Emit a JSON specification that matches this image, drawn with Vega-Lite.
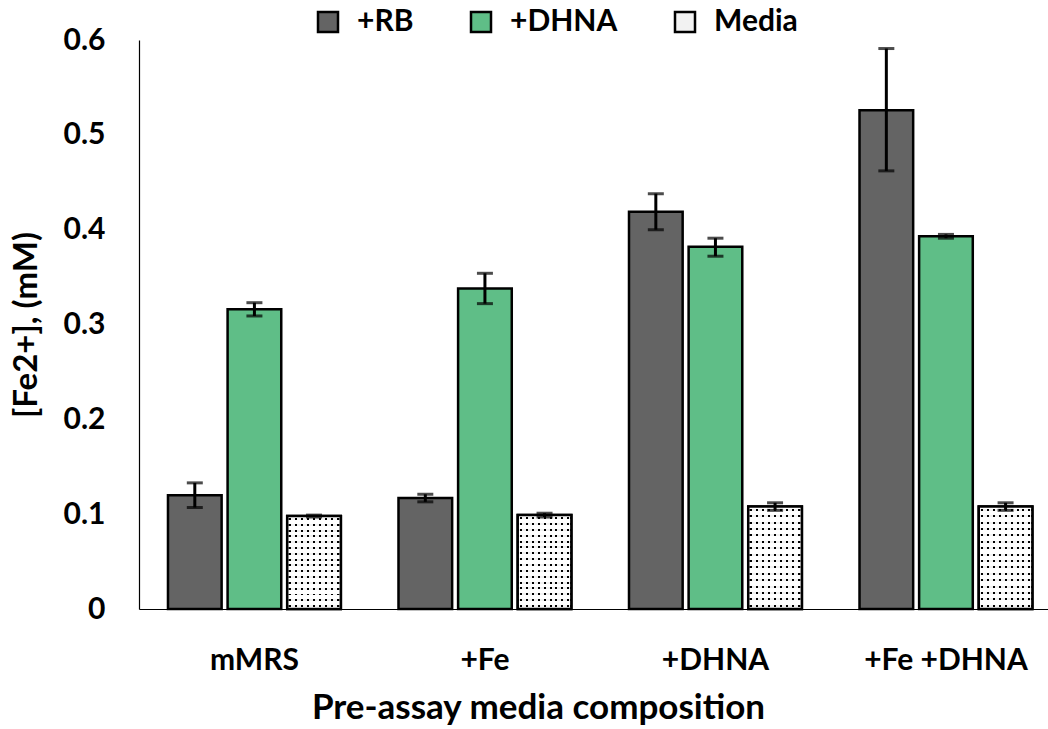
{
  "$schema": "https://vega.github.io/schema/vega-lite/v6.json",
  "autosize": "none",
  "padding": {"left": 139, "top": 40, "right": 0, "bottom": 120},
  "width": 909,
  "height": 569,
  "background": "white",
  "config": {
    "font": "Lato",
    "view": {"stroke": null},
    "axis": {"grid": false, "domainColor": "#000000", "domainWidth": 1.2, "ticks": false, "labelFont": "Lato", "labelFontWeight": "bold", "labelColor": "#000000", "titleFont": "Lato", "titleFontWeight": "bold", "titleColor": "#000000"}
  },
  "data": {
    "values": [
      {"group": "mMRS", "series": "+RB", "value": 0.120, "lo": 0.107, "hi": 0.133},
      {"group": "mMRS", "series": "+DHNA", "value": 0.316, "lo": 0.309, "hi": 0.323},
      {"group": "mMRS", "series": "Media", "value": 0.098, "lo": 0.097, "hi": 0.099},
      {"group": "+Fe", "series": "+RB", "value": 0.117, "lo": 0.113, "hi": 0.121},
      {"group": "+Fe", "series": "+DHNA", "value": 0.338, "lo": 0.322, "hi": 0.354},
      {"group": "+Fe", "series": "Media", "value": 0.099, "lo": 0.097, "hi": 0.101},
      {"group": "+DHNA", "series": "+RB", "value": 0.419, "lo": 0.400, "hi": 0.438},
      {"group": "+DHNA", "series": "+DHNA", "value": 0.382, "lo": 0.372, "hi": 0.391},
      {"group": "+DHNA", "series": "Media", "value": 0.108, "lo": 0.104, "hi": 0.112},
      {"group": "+Fe +DHNA", "series": "+RB", "value": 0.526, "lo": 0.462, "hi": 0.591},
      {"group": "+Fe +DHNA", "series": "+DHNA", "value": 0.393, "lo": 0.391, "hi": 0.395},
      {"group": "+Fe +DHNA", "series": "Media", "value": 0.108, "lo": 0.104, "hi": 0.112}
    ]
  },
  "encoding": {
    "x": {
      "field": "group", "type": "nominal",
      "sort": ["mMRS", "+Fe", "+DHNA", "+Fe +DHNA"],
      "scale": {"paddingInner": 0.25, "paddingOuter": 0.0967, "align": 0.65},
      "axis": {"title": "Pre-assay media composition", "labelAngle": 0, "labelFontSize": 30, "labelPadding": 36, "titleFontSize": 35, "titlePadding": 15, "titleX": 399}
    },
    "xOffset": {
      "field": "series", "type": "nominal",
      "sort": ["+RB", "+DHNA", "Media"],
      "scale": {"paddingInner": 0.1, "paddingOuter": 0}
    }
  },
  "layer": [
    {
      "mark": {"type": "bar", "stroke": "#000000", "strokeWidth": 2.5},
      "encoding": {
        "y": {
          "field": "value", "type": "quantitative",
          "scale": {"domain": [0, 0.6], "nice": false},
          "axis": {"title": "[Fe2+], (mM)", "values": [0, 0.1, 0.2, 0.3, 0.4, 0.5, 0.6], "format": ".1~f", "labelFontSize": 30, "labelPadding": 34, "titleFontSize": 33, "titlePadding": 20}
        },
        "fill": {
          "field": "series", "type": "nominal",
          "sort": ["+RB", "+DHNA", "Media"],
          "scale": {"domain": ["+RB", "+DHNA", "Media"], "range": ["#646464", "#5FBE87", "#F2F2F2"]},
          "legend": {
            "title": null, "orient": "none", "legendX": 174, "legendY": -33, "direction": "horizontal",
            "symbolType": "square", "symbolSize": 400, "symbolStrokeColor": "#000000", "symbolStrokeWidth": 2.5,
            "labelFontSize": 30, "labelFont": "Lato", "labelFontWeight": "bold", "labelColor": "#000000",
            "labelOffset": 14, "columnPadding": 52
          }
        }
      }
    },
    {
      "transform": [{"filter": "datum.series === 'Media'"}],
      "mark": {"type": "bar", "strokeWidth": 0, "fill": {"gradient": "linear", "x1": 0, "y1": 0, "x2": 1, "y2": 0, "stops": [
        {"offset": 0, "color": "rgba(0,0,0,0)"},
        {"offset": 0.037, "color": "rgba(0,0,0,0)"}, {"offset": 0.037, "color": "#000"}, {"offset": 0.074, "color": "#000"}, {"offset": 0.074, "color": "rgba(0,0,0,0)"},
        {"offset": 0.148, "color": "rgba(0,0,0,0)"}, {"offset": 0.148, "color": "#000"}, {"offset": 0.185, "color": "#000"}, {"offset": 0.185, "color": "rgba(0,0,0,0)"},
        {"offset": 0.259, "color": "rgba(0,0,0,0)"}, {"offset": 0.259, "color": "#000"}, {"offset": 0.296, "color": "#000"}, {"offset": 0.296, "color": "rgba(0,0,0,0)"},
        {"offset": 0.370, "color": "rgba(0,0,0,0)"}, {"offset": 0.370, "color": "#000"}, {"offset": 0.407, "color": "#000"}, {"offset": 0.407, "color": "rgba(0,0,0,0)"},
        {"offset": 0.481, "color": "rgba(0,0,0,0)"}, {"offset": 0.481, "color": "#000"}, {"offset": 0.519, "color": "#000"}, {"offset": 0.519, "color": "rgba(0,0,0,0)"},
        {"offset": 0.593, "color": "rgba(0,0,0,0)"}, {"offset": 0.593, "color": "#000"}, {"offset": 0.630, "color": "#000"}, {"offset": 0.630, "color": "rgba(0,0,0,0)"},
        {"offset": 0.704, "color": "rgba(0,0,0,0)"}, {"offset": 0.704, "color": "#000"}, {"offset": 0.741, "color": "#000"}, {"offset": 0.741, "color": "rgba(0,0,0,0)"},
        {"offset": 0.815, "color": "rgba(0,0,0,0)"}, {"offset": 0.815, "color": "#000"}, {"offset": 0.852, "color": "#000"}, {"offset": 0.852, "color": "rgba(0,0,0,0)"},
        {"offset": 0.926, "color": "rgba(0,0,0,0)"}, {"offset": 0.926, "color": "#000"}, {"offset": 0.963, "color": "#000"}, {"offset": 0.963, "color": "rgba(0,0,0,0)"},
        {"offset": 1, "color": "rgba(0,0,0,0)"}
      ]}},
      "encoding": {"y": {"field": "value", "type": "quantitative"}}
    },
    {
      "transform": [{"filter": "datum.series === 'Media'"}],
      "mark": {"type": "bar", "stroke": "#000000", "strokeWidth": 2.5, "fill": {"gradient": "linear", "x1": 0, "y1": 0, "x2": 0, "y2": 1, "stops": [
        {"offset": 0, "color": "#fff"},
        {"offset": 0.0208, "color": "#fff"}, {"offset": 0.0208, "color": "rgba(255,255,255,0)"}, {"offset": 0.0417, "color": "rgba(255,255,255,0)"}, {"offset": 0.0417, "color": "#fff"},
        {"offset": 0.0833, "color": "#fff"}, {"offset": 0.0833, "color": "rgba(255,255,255,0)"}, {"offset": 0.1042, "color": "rgba(255,255,255,0)"}, {"offset": 0.1042, "color": "#fff"},
        {"offset": 0.1458, "color": "#fff"}, {"offset": 0.1458, "color": "rgba(255,255,255,0)"}, {"offset": 0.1667, "color": "rgba(255,255,255,0)"}, {"offset": 0.1667, "color": "#fff"},
        {"offset": 0.2083, "color": "#fff"}, {"offset": 0.2083, "color": "rgba(255,255,255,0)"}, {"offset": 0.2292, "color": "rgba(255,255,255,0)"}, {"offset": 0.2292, "color": "#fff"},
        {"offset": 0.2708, "color": "#fff"}, {"offset": 0.2708, "color": "rgba(255,255,255,0)"}, {"offset": 0.2917, "color": "rgba(255,255,255,0)"}, {"offset": 0.2917, "color": "#fff"},
        {"offset": 0.3333, "color": "#fff"}, {"offset": 0.3333, "color": "rgba(255,255,255,0)"}, {"offset": 0.3542, "color": "rgba(255,255,255,0)"}, {"offset": 0.3542, "color": "#fff"},
        {"offset": 0.3958, "color": "#fff"}, {"offset": 0.3958, "color": "rgba(255,255,255,0)"}, {"offset": 0.4167, "color": "rgba(255,255,255,0)"}, {"offset": 0.4167, "color": "#fff"},
        {"offset": 0.4583, "color": "#fff"}, {"offset": 0.4583, "color": "rgba(255,255,255,0)"}, {"offset": 0.4792, "color": "rgba(255,255,255,0)"}, {"offset": 0.4792, "color": "#fff"},
        {"offset": 0.5208, "color": "#fff"}, {"offset": 0.5208, "color": "rgba(255,255,255,0)"}, {"offset": 0.5417, "color": "rgba(255,255,255,0)"}, {"offset": 0.5417, "color": "#fff"},
        {"offset": 0.5833, "color": "#fff"}, {"offset": 0.5833, "color": "rgba(255,255,255,0)"}, {"offset": 0.6042, "color": "rgba(255,255,255,0)"}, {"offset": 0.6042, "color": "#fff"},
        {"offset": 0.6458, "color": "#fff"}, {"offset": 0.6458, "color": "rgba(255,255,255,0)"}, {"offset": 0.6667, "color": "rgba(255,255,255,0)"}, {"offset": 0.6667, "color": "#fff"},
        {"offset": 0.7083, "color": "#fff"}, {"offset": 0.7083, "color": "rgba(255,255,255,0)"}, {"offset": 0.7292, "color": "rgba(255,255,255,0)"}, {"offset": 0.7292, "color": "#fff"},
        {"offset": 0.7708, "color": "#fff"}, {"offset": 0.7708, "color": "rgba(255,255,255,0)"}, {"offset": 0.7917, "color": "rgba(255,255,255,0)"}, {"offset": 0.7917, "color": "#fff"},
        {"offset": 0.8333, "color": "#fff"}, {"offset": 0.8333, "color": "rgba(255,255,255,0)"}, {"offset": 0.8542, "color": "rgba(255,255,255,0)"}, {"offset": 0.8542, "color": "#fff"},
        {"offset": 0.8958, "color": "#fff"}, {"offset": 0.8958, "color": "rgba(255,255,255,0)"}, {"offset": 0.9167, "color": "rgba(255,255,255,0)"}, {"offset": 0.9167, "color": "#fff"},
        {"offset": 0.9583, "color": "#fff"}, {"offset": 0.9583, "color": "rgba(255,255,255,0)"}, {"offset": 0.9792, "color": "rgba(255,255,255,0)"}, {"offset": 0.9792, "color": "#fff"},
        {"offset": 1, "color": "#fff"}
      ]}},
      "encoding": {"y": {"field": "value", "type": "quantitative"}}
    },
    {
      "mark": {"type": "rule", "color": "#000000", "strokeWidth": 3},
      "encoding": {"y": {"field": "lo", "type": "quantitative"}, "y2": {"field": "hi"}}
    },
    {
      "mark": {"type": "tick", "color": "#000000", "thickness": 3, "size": 16},
      "encoding": {"y": {"field": "lo", "type": "quantitative"}}
    },
    {
      "mark": {"type": "tick", "color": "#000000", "thickness": 3, "size": 16},
      "encoding": {"y": {"field": "hi", "type": "quantitative"}}
    }
  ]
}
